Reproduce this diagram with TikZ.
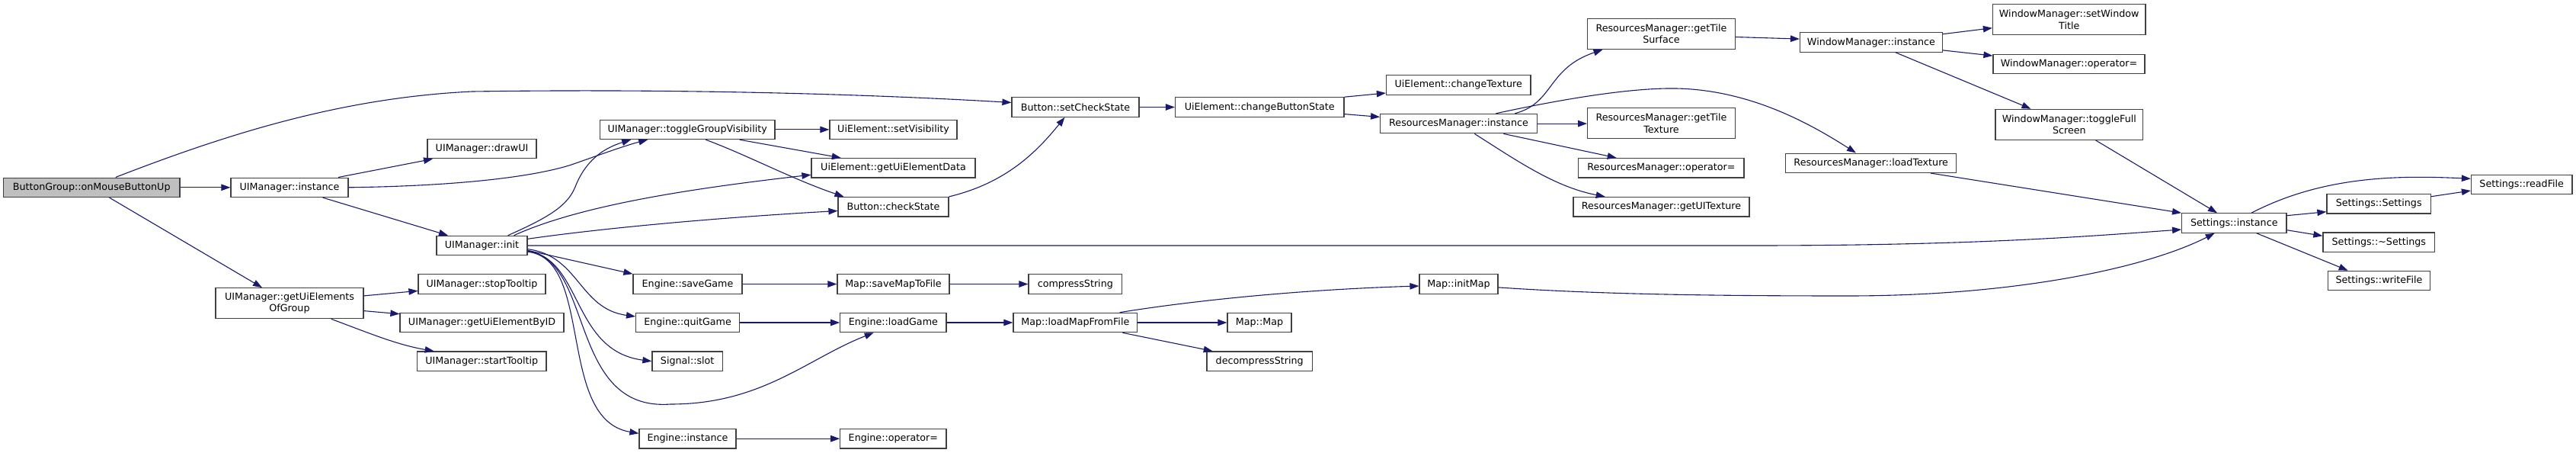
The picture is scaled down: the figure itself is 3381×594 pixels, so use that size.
\documentclass[tikz,border=0pt]{standalone}
\usepackage{fontspec}
\setmainfont{DejaVu Sans}
\usetikzlibrary{arrows.meta}
\definecolor{edgec}{HTML}{191970}
\definecolor{rootfill}{HTML}{BFBFBF}
\definecolor{boxline}{HTML}{404040}
\tikzset{
  nd/.style={draw=boxline, line width=1.2pt, rectangle, inner sep=0pt, fill=white,
    minimum height=25.4pt, align=center, font=\fontsize{12.7}{15.2}\selectfont},
  nd2/.style={nd, minimum height=40pt},
  rootnd/.style={nd, fill=rootfill},
  edge/.style={draw=edgec, line width=1.1pt, -{Triangle[length=12pt,width=8.5pt]}}
}
\begin{document}
\begin{tikzpicture}[x=1pt,y=-1pt]
\useasboundingbox (0,0) rectangle (3381,594);
% nodes
\node[rootnd, minimum width=231.6pt] (bg) at (120.2,245.8) {ButtonGroup::onMouseButtonUp};
\node[nd, minimum width=154pt] (uimi) at (380,245.8) {UIManager::instance};
\node[nd2, minimum width=194pt] (uimg) at (380,397.7) {UIManager::getUiElements\\OfGroup};
\node[nd, minimum width=229.5pt] (tgv) at (902.2,169.9) {UIManager::toggleGroupVisibility};
\node[nd, minimum width=143pt] (drawui) at (632.5,195.1) {UIManager::drawUI};
\node[nd, minimum width=119pt] (init) at (632.5,322) {UIManager::init};
\node[nd, minimum width=167pt] (stop) at (632.5,372.5) {UIManager::stopTooltip};
\node[nd, minimum width=215pt] (byid) at (632.5,423) {UIManager::getUiElementByID};
\node[nd, minimum width=169.5pt] (start) at (632.3,473.7) {UIManager::startTooltip};
\node[nd, minimum width=167pt] (setvis) at (1172.5,169.9) {UiElement::setVisibility};
\node[nd, minimum width=215pt] (getdata) at (1172.5,220.3) {UiElement::getUiElementData};
\node[nd, minimum width=145pt] (check) at (1172.5,271.2) {Button::checkState};
\node[nd, minimum width=143pt] (save) at (902.5,372.5) {Engine::saveGame};
\node[nd, minimum width=136pt] (quit) at (902.6,423) {Engine::quitGame};
\node[nd, minimum width=92.5pt] (slot) at (902.2,473.7) {Signal::slot};
\node[nd, minimum width=127pt] (einst) at (902.5,575.2) {Engine::instance};
\node[nd, minimum width=147pt] (savemap) at (1172.5,372.5) {Map::saveMapToFile};
\node[nd, minimum width=139.3pt] (load) at (1172.4,423) {Engine::loadGame};
\node[nd, minimum width=139.3pt] (eop) at (1172.4,575.2) {Engine::operator=};
\node[nd, minimum width=167pt] (setcs) at (1411.5,140.5) {Button::setCheckState};
\node[nd, minimum width=122.6pt] (comp) at (1411.3,372.5) {compressString};
\node[nd, minimum width=162.6pt] (lmff) at (1411.3,423) {Map::loadMapFromFile};
\node[nd, minimum width=221.5pt] (cbs) at (1653.2,140.5) {UiElement::changeButtonState};
\node[nd, minimum width=84pt] (mapmap) at (1653,423) {Map::Map};
\node[nd, minimum width=138.5pt] (decomp) at (1653.2,473.7) {decompressString};
\node[nd, minimum width=189.5pt] (ctex) at (1914.2,111.4) {UiElement::changeTexture};
\node[nd, minimum width=205.7pt] (rmi) at (1914.5,162.1) {ResourcesManager::instance};
\node[nd, minimum width=103pt] (initmap) at (1914.5,372.5) {Map::initMap};
\node[nd2, minimum width=193.8pt] (gts) at (2180.5,44.5) {ResourcesManager::getTile\\Surface};
\node[nd2, minimum width=193.8pt] (gtt) at (2180.5,161.7) {ResourcesManager::getTile\\Texture};
\node[nd, minimum width=217.2pt] (rmop) at (2180.4,220.3) {ResourcesManager::operator=};
\node[nd, minimum width=231pt] (gui) at (2180.5,271.2) {ResourcesManager::getUITexture};
\node[nd, minimum width=186.8pt] (wmi) at (2455.9,55.5) {WindowManager::instance};
\node[nd, minimum width=224.2pt] (ltex) at (2455.7,213.8) {ResourcesManager::loadTexture};
\node[nd2, minimum width=200.5pt] (wmst) at (2715.7,25.8) {WindowManager::setWindow\\Title};
\node[nd, minimum width=199pt] (wmop) at (2715.5,84.1) {WindowManager::operator=};
\node[nd2, minimum width=193.7pt] (wmtf) at (2715.8,163.3) {WindowManager::toggleFull\\Screen};
\node[nd, minimum width=137.3pt] (sinst) at (2932.3,292.5) {Settings::instance};
\node[nd, minimum width=132.5pt] (sread) at (3309.7,241.9) {Settings::readFile};
\node[nd, minimum width=136.5pt] (sset) at (3122.2,267.2) {Settings::Settings};
\node[nd, minimum width=146.7pt] (sdtor) at (3122.3,317.6) {Settings::\textasciitilde Settings};
\node[nd, minimum width=133.8pt] (swrite) at (3122.5,368) {Settings::writeFile};
% edges
\draw[edge] ([xshift=31.5pt]bg.north) .. controls (300,175) and (450,128) .. (620,120) .. controls (900,116) and (1150,124) .. ([yshift=6pt]setcs.west);
\draw[edge] (bg.east) -- (uimi.west);
\draw[edge] ([xshift=23.3pt]bg.south) -- ([xshift=-36pt]uimg.north);
\draw[edge] ([xshift=64pt]uimi.north) -- ([xshift=-64.5pt]drawui.south);
\draw[edge] (uimi.east) .. controls (600,244) and (700,232) .. (750,216) .. controls (790,202) and (820,191) .. ([xshift=-52pt]tgv.south);
\draw[edge] ([xshift=43.6pt]uimi.south) -- ([xshift=-44.5pt]init.north);
\draw[edge] ([yshift=9.8pt]uimg.east) -- ([yshift=-8.9pt]stop.west);
\draw[edge] ([yshift=-9.9pt]uimg.east) -- ([yshift=11.3pt]byid.west);
\draw[edge] ([xshift=54.7pt]uimg.south) .. controls (480,435) and (520,452) .. ([xshift=-62.6pt]start.north);
\draw[edge] (tgv.east) -- (setvis.west);
\draw[edge] ([xshift=68.5pt]tgv.south) -- ([xshift=-68.7pt]getdata.north);
\draw[edge] ([xshift=24pt]tgv.south) .. controls (980,203) and (1040,235) .. ([xshift=-65pt]check.north);
\draw[edge] ([xshift=34.2pt]init.north) .. controls (720,285) and (745,270) .. (755,245) .. controls (768,212) and (790,195) .. ([xshift=-74pt]tgv.south);
\draw[edge] ([xshift=42pt]init.north) .. controls (760,270) and (900,248) .. ([yshift=-8.9pt]getdata.west);
\draw[edge] ([yshift=8.7pt]init.east) .. controls (800,298) and (950,285) .. ([yshift=-5.3pt]check.west);
\draw[edge] (init.east) -- (2300,322) .. controls (2600,322) and (2750,309) .. ([yshift=-8.5pt]sinst.west);
\draw[edge] ([yshift=-6.3pt]init.east) -- (save.north west);
\draw[edge] ([yshift=-4.7pt]init.east) .. controls (760,335) and (760,405) .. ([yshift=8pt]quit.west);
\draw[edge] ([yshift=-7pt]init.east) .. controls (765,340) and (750,460) .. (slot.west);
\draw[edge] ([yshift=-8pt]init.east) .. controls (780,340) and (745,540) .. (880,530) .. controls (1000,530) and (1060,470) .. ([xshift=-25.7pt]load.south);
\draw[edge] ([yshift=-8pt]init.east) .. controls (780,340) and (730,550) .. ([yshift=6.9pt]einst.west);
\draw[edge] (save.east) -- (savemap.west);
\draw[edge] (quit.east) -- (load.west);
\draw[edge] (einst.east) -- (eop.west);
\draw[edge] (savemap.east) -- (comp.west);
\draw[edge] (load.east) -- (lmff.west);
\draw[edge] (check.north east) .. controls (1320,240) and (1360,200) .. ([xshift=-14pt]setcs.south);
\draw[edge] (setcs.east) -- (cbs.west);
\draw[edge] (cbs.north east) -- ([yshift=-10.6pt]ctex.west);
\draw[edge] ([yshift=-9.1pt]cbs.east) -- ([yshift=8.7pt]rmi.west);
\draw[edge] ([xshift=58.3pt]lmff.north) .. controls (1560,395) and (1700,380) .. ([yshift=-2.5pt]initmap.west);
\draw[edge] (lmff.east) -- (mapmap.west);
\draw[edge] ([xshift=62pt]lmff.south) -- ([xshift=-61.5pt]decomp.north);
\draw[edge] ([xshift=73.8pt]rmi.north) .. controls (2040,135) and (2030,90) .. ([xshift=-77pt]gts.south);
\draw[edge] (rmi.east) -- (rmi.east -| gtt.west);
\draw[edge] ([xshift=58.8pt]rmi.south) -- ([xshift=-58.7pt]rmop.north);
\draw[edge] ([xshift=20.8pt]rmi.south) .. controls (1990,210) and (2040,245) .. ([xshift=-73.8pt]gui.north);
\draw[edge] ([xshift=48.8pt]rmi.north) .. controls (2050,130) and (2140,115) .. (2200,116) .. controls (2300,118) and (2380,165) .. ([xshift=-19.7pt]ltex.north);
\draw[edge] ([yshift=-4pt]gts.east) -- ([yshift=4.4pt]wmi.west);
\draw[edge] ([yshift=10.8pt]wmi.east) -- ([yshift=-10.9pt]wmst.west);
\draw[edge] ([yshift=-10.4pt]wmi.east) -- ([yshift=11pt]wmop.west);
\draw[edge] ([xshift=32pt]wmi.south) -- ([xshift=-50.3pt]wmtf.north);
\draw[edge] ([xshift=34.7pt]wmtf.south) -- ([xshift=-22.3pt]sinst.north);
\draw[edge] ([xshift=78.4pt]ltex.south) -- (sinst.north west);
\draw[edge] ([yshift=-4.4pt]initmap.east) .. controls (2100,386) and (2250,388) .. (2425,388) .. controls (2650,388) and (2820,350) .. ([xshift=-25.6pt]sinst.south);
\draw[edge] ([xshift=22.7pt]sinst.north) .. controls (3050,230) and (3150,230) .. ([yshift=7.6pt]sread.west);
\draw[edge] ([yshift=9.8pt]sinst.east) -- ([yshift=-10.5pt]sset.west);
\draw[edge] ([yshift=-9.2pt]sinst.east) -- ([yshift=8.3pt]sdtor.west);
\draw[edge] ([xshift=29.4pt]sinst.south) -- ([xshift=-40.8pt]swrite.north);
\draw[edge] ([yshift=9.5pt]sset.east) -- ([yshift=-8.1pt]sread.west);
\end{tikzpicture}
\end{document}
